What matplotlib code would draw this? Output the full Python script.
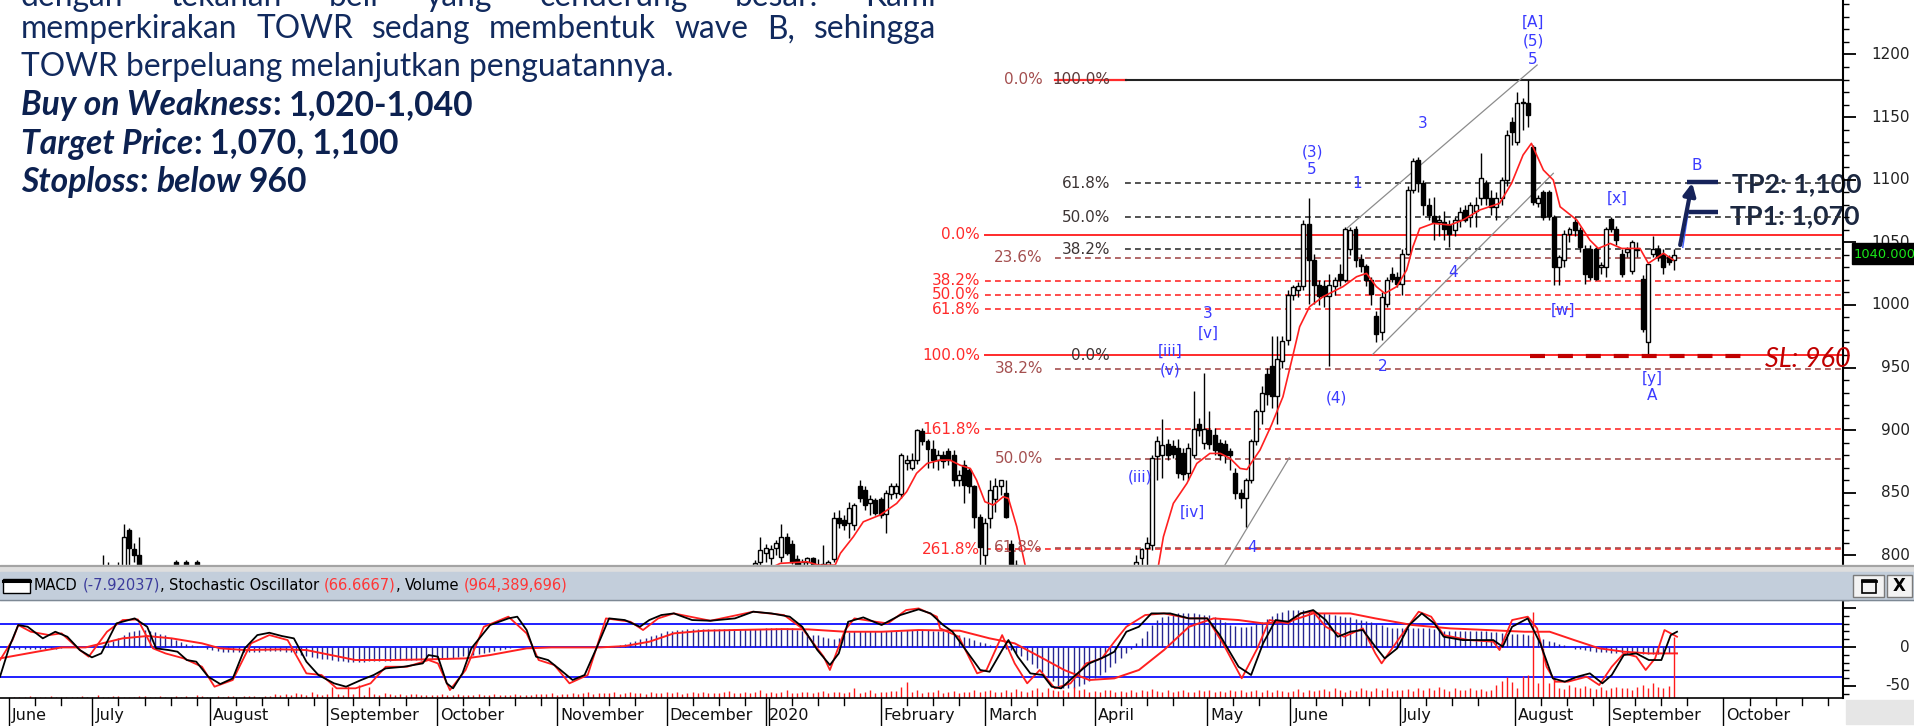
import numpy as np
import matplotlib
matplotlib.use("Agg")
import matplotlib.pyplot as plt
import matplotlib.transforms as mtransforms
from matplotlib.patches import Rectangle

W, H = 1915, 726

# visible ranges of the two panels
PRICE_LO, PRICE_HI = 792.3, 1243.5
IND_LO, IND_HI = -65.4, 60.3
X_LO, X_HI = -2.7, 350.4
VOL_PER_UNIT = 12.26	# million shares per indicator unit

# ---- July 2019 candles that just reach into view ----
early_idx = [17, 18, 20, 21, 22, 23, 24, 31, 33, 35]
early_open = [780, 780, 782, 785, 820, 805, 800, 795, 795, 795]
early_high = [800, 795, 795, 825, 822, 810, 815, 796, 796, 796]
early_low = [770, 770, 775, 780, 785, 795, 780, 780, 780, 780]
early_close = [785, 788, 790, 815, 806, 800, 790, 785, 785, 785]

# ---- daily candles, Jan 2020 - Sep 2020 (bar 142 onwards) ----
main_start = 142
c_open = [792, 795, 802, 798, 806, 799, 815, 809, 797, 792,
	795, 798, 790, 785, 790, 797, 830, 828, 826, 824,
	855, 852, 842, 844, 845, 833, 849, 850, 849, 874,
	870, 876, 899, 891, 885, 876, 880, 883, 880, 860,
	872, 868, 855, 831, 800, 830, 845, 855, 850, 809,
	792, 770, 745, 730, 700, 715, 690, 660, 680, 665,
	630, 650, 685, 690, 710, 700, 735, 750, 740, 760,
	770, 760, 785, 780, 798, 806, 808, 879, 880, 889,
	887, 886, 882, 866, 880, 905, 890, 900, 896, 890,
	889, 883, 866, 850, 846, 860, 891, 915, 945, 951,
	927, 955, 972, 1008, 1012, 1015, 1065, 1036, 1016, 1015,
	1007, 1015, 1025, 1020, 1045, 1061, 1037, 1031, 1020, 991,
	978, 1001, 1025, 1022, 1017, 1041, 1092, 1116, 1097, 1080,
	1071, 1066, 1066, 1064, 1060, 1068, 1076, 1070, 1075, 1085,
	1097, 1085, 1078, 1085, 1100, 1146, 1130, 1161, 1161, 1126,
	1081, 1090, 1090, 1070, 1030, 1036, 1057, 1066, 1060, 1045,
	1045, 1045, 1030, 1030, 1069, 1061, 1041, 1042, 1027, 1045,
	1021, 970, 1041, 1045, 1041, 1038, 1036]
c_high = [796, 815, 809, 808, 812, 825, 818, 812, 800, 797,
	799, 799, 797, 808, 796, 835, 836, 832, 843, 842,
	860, 855, 848, 846, 847, 852, 858, 858, 882, 880,
	882, 901, 902, 893, 892, 884, 883, 886, 884, 868,
	876, 870, 856, 833, 830, 860, 862, 860, 860, 812,
	796, 780, 760, 745, 720, 730, 700, 690, 700, 680,
	660, 690, 700, 720, 730, 740, 760, 770, 765, 780,
	785, 790, 790, 800, 806, 815, 880, 895, 909, 893,
	892, 893, 886, 890, 931, 910, 946, 915, 902, 893,
	892, 886, 870, 853, 862, 893, 917, 935, 950, 975,
	975, 975, 1012, 1016, 1018, 1068, 1085, 1041, 1020, 1020,
	1025, 1022, 1033, 1062, 1062, 1063, 1041, 1033, 1022, 995,
	1010, 1022, 1030, 1026, 1045, 1095, 1117, 1118, 1100, 1085,
	1086, 1072, 1075, 1068, 1070, 1078, 1080, 1082, 1086, 1121,
	1100, 1092, 1090, 1102, 1140, 1150, 1170, 1165, 1180, 1128,
	1088, 1092, 1092, 1072, 1040, 1060, 1062, 1070, 1062, 1048,
	1048, 1046, 1034, 1062, 1070, 1063, 1045, 1046, 1052, 1050,
	1024, 1033, 1055, 1048, 1045, 1040, 1045]
c_low = [785, 788, 795, 792, 800, 795, 800, 793, 788, 786,
	790, 788, 782, 780, 783, 795, 822, 820, 814, 820,
	843, 836, 832, 832, 830, 818, 845, 846, 846, 868,
	868, 873, 888, 870, 870, 868, 870, 872, 855, 855,
	842, 850, 822, 790, 780, 822, 835, 848, 830, 780,
	770, 740, 720, 700, 680, 690, 650, 640, 660, 620,
	610, 645, 670, 680, 690, 695, 720, 730, 735, 745,
	755, 755, 770, 775, 792, 792, 804, 860, 862, 876,
	878, 862, 860, 860, 878, 895, 885, 885, 880, 876,
	874, 868, 845, 838, 823, 858, 888, 905, 920, 918,
	905, 950, 968, 1004, 1006, 1012, 1001, 1001, 1000, 998,
	951, 1008, 1015, 1018, 1040, 1030, 1026, 1015, 1000, 970,
	972, 998, 1018, 1014, 1008, 1040, 1089, 1090, 1072, 1068,
	1052, 1055, 1052, 1046, 1055, 1062, 1066, 1062, 1062, 1080,
	1080, 1072, 1068, 1080, 1095, 1128, 1128, 1140, 1142, 1080,
	1078, 1068, 1068, 1016, 1016, 1030, 1050, 1055, 1042, 1017,
	1020, 1020, 1025, 1022, 1058, 1048, 1022, 1038, 1025, 1038,
	978, 960, 1038, 1035, 1025, 1032, 1028]
c_close = [794, 804, 806, 805, 810, 815, 802, 795, 790, 795,
	798, 793, 792, 793, 795, 830, 826, 824, 838, 840,
	846, 840, 845, 834, 832, 850, 855, 855, 880, 876,
	876, 900, 891, 885, 876, 880, 875, 876, 860, 864,
	856, 855, 831, 807, 826, 852, 855, 860, 831, 792,
	775, 745, 730, 705, 715, 695, 660, 680, 665, 630,
	650, 685, 690, 710, 700, 735, 750, 740, 760, 770,
	760, 785, 780, 795, 805, 810, 878, 891, 888, 880,
	881, 866, 865, 886, 901, 900, 901, 889, 884, 880,
	880, 880, 850, 846, 860, 891, 915, 930, 929, 927,
	957, 971, 1008, 1014, 1015, 1065, 1036, 1016, 1007, 1007,
	1016, 1020, 1020, 1061, 1060, 1036, 1031, 1020, 1009, 977,
	1006, 1020, 1021, 1017, 1041, 1092, 1115, 1097, 1080, 1072,
	1066, 1068, 1061, 1057, 1068, 1074, 1068, 1080, 1080, 1101,
	1085, 1078, 1085, 1100, 1136, 1138, 1161, 1162, 1152, 1082,
	1085, 1070, 1071, 1030, 1038, 1057, 1061, 1060, 1046, 1025,
	1022, 1021, 1032, 1061, 1061, 1052, 1025, 1045, 1050, 1044,
	981, 1033, 1045, 1038, 1030, 1034, 1040]

# moving average drawn over the candles (bar, price)
ma_x = [140, 144, 146.8, 151.9, 154.1, 157.3, 158.3, 160.8, 162.7, 165.9, 169.1, 171.0, 172.9,
	174.9, 177.4, 179.3, 181.2, 183.2, 184.4, 186.0, 187.6, 189.5, 190.5, 192.1, 193.7, 196,
	202, 210, 216, 219.2, 220.2, 222.1, 224.7, 226.6, 229.1, 231.1, 233.0, 234.9, 236.2, 237.4,
	238.7, 240.9, 243.1, 245.1, 246.3, 248.2, 250.8, 254.6, 257.2, 259.1, 261.0, 262.6, 264.9,
	266.8, 268.0, 269.3, 271.9, 275.1, 277.6, 280.8, 284.6, 286.9, 289.1, 290.7, 293.0, 294.9,
	296.2, 299.4, 301.9, 303.5, 305.8, 308.0, 311.5, 313.1, 316.0, 317.9]
ma_y = [785, 788, 793.6, 794.9, 792.2, 792.2, 801.6, 814.9, 826.8, 832.2, 841.5, 850.8, 865.5,
	873.4, 876.1, 876.1, 872.1, 869.4, 860.1, 842.8, 840.2, 846.8, 845.5, 822.9, 792.2, 770,
	700, 690, 740, 790.9, 814.9, 841.5, 857.5, 873.4, 881.4, 881.4, 877.4, 869.4, 868.6, 876.1,
	884.1, 904.1, 926.7, 961.3, 982.6, 998.6, 1006.6, 1014.6, 1022.5, 1025.2, 1014.6, 1009.2, 1014.6,
	1027.9, 1046.5, 1061.1, 1065.1, 1063.8, 1067.8, 1075.8, 1081.1, 1097.1, 1119.7, 1129.0, 1107.7, 1099.7,
	1078.4, 1067.8, 1051.8, 1045.1, 1049.1, 1045.1, 1045.1, 1033.2, 1041.2, 1035.9]

# fibonacci sets
fib_red_labels = ["0.0%", "38.2%", "50.0%", "61.8%", "100.0%", "161.8%", "261.8%"]
fib_red_levels = [1056, 1019.3, 1008, 996.7, 960, 900.7, 804.7]
fib_brown_labels = ["0.0%", "23.6%", "38.2%", "50.0%", "61.8%"]
fib_brown_levels = [1180, 1037.6, 949, 877, 806]
fib_black_labels = ["100.0%", "61.8%", "50.0%", "38.2%", "0.0%"]
fib_black_levels = [1180, 1097, 1070, 1044.6, 960]

# elliott wave labels
wave_text = ["[A]", "(5)", "5", "(3)", "5", "1", "3", "4", "2", "(4)", "3", "[v]", "[iii]", "(v)",
	"(iii)", "[iv]", "4", "[w]", "[x]", "[y]", "A", "B"]
wave_x = [291.0, 291.0, 291.0, 248.7, 248.7, 257.3, 269.9, 275.7, 262.3, 253.4, 228.7, 228.7, 221.5,
	221.5, 215.7, 225.7, 237.2, 296.7, 307.1, 313.8, 313.8, 322.4]
wave_y = [1226, 1211, 1196, 1122, 1108, 1097, 1144.5, 1025.5, 951, 925.5, 993.5, 977.5, 963, 948,
	862.5, 834.5, 806.5, 996, 1085.5, 941.5, 928, 1111]

chan_up_x, chan_up_y = [255.4, 291.8], [1061.4, 1191.6]
chan_lo_x, chan_lo_y = [260.3, 294.9], [960.5, 1105.1]
chan_4_x, chan_4_y = [231.4, 244.3], [788.3, 877.8]

stop_loss = 960
sl_x = [290.4, 331]
tp_levels = [1098, 1074]
tp_x = [320.5, 326.4]
arrow_from, arrow_to = (319.2, 1047.8), (321.5, 1097.4)

# ---- indicator panel ----
stk_x = [-2.7, -0.9, 0.8, 2.6, 5.5, 7.9, 10.2, 12.6, 14.9, 16.7, 19.6, 23.1, 25.5, 27.2, 29.6, 31.3,
	33.1, 34.9, 37.2, 39.5, 41.9, 44.2, 46.6, 48.9, 51.3, 53.6, 56, 58.3, 61.3, 63.6, 66.5, 68.9,
	71.2, 74.7, 78.3, 79.4, 81.2, 82.9, 84.1, 85.9, 87.6, 91.2, 94.7, 96.4, 98.2, 100, 102.3, 104.7,
	107, 109.3, 111.7, 114, 117, 119.9, 121.7, 124, 126.4, 129.9, 133.4, 138.1, 141.6, 145.1, 148.6,
	151, 153.9, 156.3, 158, 159.8, 162.7, 166.2, 169.8, 173.3, 175.6, 178, 179.8, 182.8, 185.1,
	186.9, 189.3, 190.5, 192.3, 194.7, 197.1, 198.8, 200.6, 203, 206, 209, 210.8, 213.1, 215.5,
	217.9, 221.5, 225.1, 228.6, 231, 234.6, 237, 239.3, 241.7, 244.1, 246.5, 248.9, 251.3, 253.6,
	256, 258.4, 260.8, 262.6, 265, 267.3, 269.7, 272.1, 273.9, 277.5, 281, 283.4, 285.2, 287, 290,
	292.4, 294.8, 297.1, 299.5, 301.9, 304.3, 306.1, 308.4, 310.8, 313.2, 315.6, 317.4, 318.6]
stk_y = [-38.1, 0.4, 28.2, 26, 11.1, 19.6, 13.2, -3.9, -13.3, -8.2, 30.3, 36.7, 26, -1.7, -3.9, -6,
	-16.7, -18.8, -38.1, -47.5, -40.2, -1.7, 15.3, 18.3, 14.1, 11.1, -18.8, -35.9, -46.6, -50.9, -42.3,
	-35.9, -27.4, -25.3, -21, -10.3, -12.4, -46.6, -53, -33.8, -1.7, 28.2, 36.7, 38.9, 21.8, -12.4,
	-16.7, -29.5, -42.3, -35.9, 0.4, 36.7, 34.6, 26, 34.6, 41, 43.1, 34.6, 33.7, 36.7, 45.3, 43.1,
	38.9, 26, -3.9, -23.1, -8.2, 32.4, 38, 28.2, 41, 48.3, 43.1, 28.2, 19.6, -8.2, -29.5, -31.7,
	-3.9, 8.9, -12.4, -33.8, -35.9, -50.9, -53, -38.1, -21, -12.4, -6, 19.6, 26, 43.1, 43.1, 36.7,
	36.7, 15.3, -25.3, -35.9, 4.7, 34.6, 32.4, 43.1, 47.4, 34.6, 13.2, 19.6, 21.8, 0.4, -14.6,
	-1.7, 28.2, 43.1, 30.3, 13.2, 8.9, 8.9, 8.9, 0.4, 26, 36.7, 4.7, -40.2, -44.5, -38.1, -33.8,
	-46.6, -35.9, -10.3, -8.2, -16.7, -16.7, 15.3, 19.6]
std_x = [-2.7, -0.3, 0.8, 3.2, 6.7, 9.1, 12.6, 14.3, 17.8, 20.8, 23.7, 26.6, 29, 32.5, 36, 38.4,
	41.9, 45.4, 48.9, 52.4, 56, 58.9, 61.8, 65.4, 68.3, 71.2, 75.3, 79.4, 81.2, 83.5, 86.5, 90,
	94.7, 98.2, 100.5, 103.5, 106.4, 109.9, 113.4, 118.1, 120.5, 123.4, 126.4, 133.4, 141.6, 147.5,
	151, 155.1, 156.3, 159.2, 161, 165.1, 167.4, 170.9, 173.3, 176.8, 177.4, 181, 184.5, 186.3,
	189.3, 191.7, 194.1, 196.5, 199.4, 202.4, 205.4, 208.4, 210.8, 213.1, 216.7, 220.3, 225.1,
	228.6, 231.6, 235.2, 238.2, 240.5, 244.1, 246.5, 248.9, 251.3, 254.8, 258.4, 260.8, 262, 265.6,
	269.1, 271.5, 273.9, 278.7, 283.4, 284.6, 287, 290, 291.8, 293.6, 295.3, 297.7, 301.3, 303.7,
	306.1, 308.4, 310.8, 312.6, 314.4, 316.2, 318.6]
std_y = [-16.7, 8.9, 28.2, 19.6, 15.3, 17.5, -3.9, -12.4, 19.6, 34.6, 35.4, -1.7, -8.2, -14.6,
	-25.3, -50.9, -42.3, 4.7, 15.3, 8.9, -33.8, -35.9, -53, -53, -46.6, -25.3, -25.3, -16.7, -21,
	-55.2, -29.5, 26, 38.9, 17.5, -16.7, -23.1, -46.6, -35.9, 36.7, 32.4, 21.8, 36.7, 43.1, 33.7,
	45.3, 41, 23.9, -12.4, -29.5, 21.8, 36.7, 32.4, 30.3, 47.4, 49.5, 38.9, 23.9, 13.2, -33.8,
	-29.5, 15.3, -21, -46.6, -29.5, -53, -46.6, -21, -14.6, 6.8, 26, 41, 43.1, 36.7, 36.7, 4.7,
	-40.2, -1.7, 34.6, 30.3, 43.1, 45.3, 26, 13.2, 23.9, -8.2, -21, 13.2, 45.3, 38.9, 15.3, 8.9,
	6.8, -3.9, 34.6, 38.9, 23.9, -25.3, -44.5, -44.5, -38.1, -48.8, -25.3, -8.2, -12.4, -29.5,
	-14.6, 21.8, 13.2]
sig_x = [-2.7, 4.4, 9.1, 13.7, 20.8, 25.5, 30.2, 36, 39.5, 44.2, 51.3, 56, 60.7, 65.4, 72.4, 79.4,
	86.5, 91.2, 98.2, 102.9, 112.3, 117, 121.7, 126.4, 132.2, 138.1, 147.5, 152.2, 159.2, 166.2,
	173.3, 181.2, 186.9, 191.7, 196.5, 201.2, 206, 210.8, 215.5, 220.3, 225.1, 229.8, 234.6, 239.3,
	244.1, 248.9, 256, 260.8, 267.9, 275.1, 282.2, 289.4, 294.2, 298.9, 303.7, 308.4, 313.2, 318.6]
sig_y = [-14.6, -6, -0.5, -0.5, 11.1, 14.1, 11.1, 4.7, -1.7, -3.9, -3, -3.9, -10.3, -16.7, -16.7,
	-15.8, -14.6, -10.3, -1.7, -0.5, -0.5, 1.2, 6.8, 17.5, 20.9, 21.8, 23, 22.6, 19.6, 19.6, 21.8,
	20.9, 11.1, 4.7, -12.4, -29.5, -42.3, -40.2, -29.5, -3.9, 26, 36.7, 34.6, 30.3, 32.4, 43.1,
	43.1, 36.7, 28.2, 23.9, 21.8, 19.6, 19.6, 8.9, -1.7, -6, -8.2, -8.2]
# one value per bar, bar 0 .. 318
macd_hist = [-3, -3, -3, -2, -3, -3, -2, -2, -2, -1,
	0, 0, 0, 0, 0, 0, 1, 3, 5, 8,
	12, 16, 19, 21, 22, 22, 21, 19, 17, 15,
	12, 9, 7, 4, 2, 1, 0, -2, -4, -5,
	-6, -6, -7, -7, -7, -6, -6, -6, -5, -5,
	-5, -5, -6, -7, -8, -10, -12, -13, -14, -15,
	-16, -17, -18, -18, -19, -19, -19, -19, -18, -18,
	-18, -18, -18, -17, -17, -17, -17, -17, -17, -17,
	-16, -16, -15, -15, -14, -13, -12, -11, -10, -9,
	-8, -6, -5, -4, -2, -1, 0, 0, 0, 0,
	0, 0, 0, 0, 0, 0, 0, 0, 0, 0,
	0, 0, 0, 0, 0, 1, 2, 4, 6, 8,
	10, 12, 14, 16, 18, 20, 21, 22, 22, 23,
	23, 23, 23, 23, 23, 23, 23, 23, 23, 23,
	23, 23, 23, 23, 24, 24, 24, 24, 24, 24,
	22, 20, 18, 16, 15, 13, 11, 10, 12, 16,
	19, 20, 21, 21, 21, 21, 21, 21, 21, 21,
	21, 22, 22, 22, 22, 22, 21, 21, 20, 19,
	17, 15, 13, 11, 9, 7, 5, 3, 1, 0,
	-2, -4, -8, -12, -17, -22, -27, -32, -38, -44,
	-50, -53, -53, -52, -50, -47, -44, -40, -36, -32,
	-26, -20, -14, -8, -2, 5, 12, 20, 28, 35,
	38, 40, 42, 43, 43, 43, 43, 42, 41, 41,
	39, 36, 32, 28, 27, 26, 26, 27, 29, 32,
	36, 40, 43, 45, 47, 48, 48, 48, 47, 45,
	44, 43, 42, 41, 40, 39, 38, 36, 35, 34,
	32, 30, 28, 26, 25, 24, 24, 24, 24, 24,
	24, 24, 23, 22, 21, 21, 20, 20, 20, 20,
	20, 20, 20, 19, 19, 18, 17, 17, 17, 17,
	16, 14, 12, 10, 8, 6, 4, 2, 0, -2,
	-3, -4, -5, -6, -7, -7, -8, -8, -8, -9,
	-9, -9, -9, -9, -9, -9, -8, -8, -8]
volume_m = [20, 10, 15, 30, 10, 20, 15, 25, 10, 20,
	15, 20, 10, 30, 20, 15, 40, 20, 15, 25,
	30, 20, 15, 20, 35, 25, 20, 15, 30, 20,
	20, 25, 15, 30, 20, 40, 25, 20, 15, 30,
	20, 30, 25, 20, 35, 25, 30, 20, 25, 30,
	60, 50, 70, 45, 80, 60, 55, 90, 60, 50,
	70, 180, 65, 55, 190, 60, 200, 50, 170, 60,
	55, 75, 60, 50, 65, 45, 60, 70, 55, 40,
	50, 45, 60, 55, 40, 65, 50, 45, 55, 60,
	45, 50, 60, 40, 55, 50, 60, 45, 50, 55,
	60, 70, 65, 80, 55, 70, 60, 75, 65, 80,
	90, 70, 85, 75, 80, 95, 70, 85, 90, 75,
	80, 70, 90, 85, 75, 100, 80, 95, 70, 85,
	90, 75, 100, 80, 85, 75, 90, 110, 80, 85,
	95, 80, 90, 120, 85, 100, 75, 90, 130, 80,
	85, 90, 100, 75, 95, 110, 85, 100, 90, 80,
	95, 150, 85, 90, 120, 80, 100, 95, 110, 110,
	180, 250, 100, 130, 85, 90, 100, 120, 80, 95,
	110, 85, 100, 90, 120, 95, 110, 130, 90, 100,
	120, 100, 140, 110, 95, 130, 150, 100, 160, 120,
	110, 130, 100, 170, 120, 140, 90, 110, 100, 130,
	120, 100, 110, 90, 130, 100, 120, 110, 140, 115,
	100, 120, 90, 110, 130, 100, 95, 120, 110, 130,
	100, 115, 90, 120, 105, 130, 100, 110, 120, 95,
	120, 100, 130, 115, 95, 110, 140, 100, 120, 110,
	130, 140, 110, 160, 120, 100, 130, 110, 150, 125,
	110, 150, 120, 160, 110, 130, 120, 140, 110, 160,
	130, 150, 120, 170, 140, 110, 160, 120, 130, 150,
	120, 140, 110, 130, 200, 260, 330, 250, 160, 340,
	360, 1360, 240, 790, 230, 280, 160, 140, 200, 170,
	150, 190, 160, 140, 170, 130, 150, 180, 160, 150,
	130, 170, 200, 150, 230, 180, 160, 190, 964]
ind_levels = [30, 0, -38]

# month ticks on the time axis (bar positions)
month_pos = [-1, 15, 37.5, 60, 81, 104, 125, 144, 166, 186, 207, 228.5, 244.5, 265.5, 287.5, 305.5, 327.5]
month_names = ["June", "July", "August", "September", "October", "November", "December", "2020",
	"February", "March", "April", "May", "June", "July", "August", "September", "October"]

# overlay text
para_l1 = "dengan tekanan beli yang cenderung besar. Kami"
para_l2 = "memperkirakan TOWR sedang membentuk wave B, sehingga"
para_l3 = "TOWR berpeluang melanjutkan penguatannya."
header_parts = [("MACD", "black", False), ("(-7.92037)", "#3b3b9c", True), (",", "black", False),
	("Stochastic Oscillator", "black", True), ("(66.6667)", "#ff3636", True), (",", "black", False),
	("Volume", "black", True), ("(964,389,696)", "#ff3636", True)]


def fx(x):
	return x / W


def fy(y):
	return 1 - y / H


fig = plt.figure(figsize=(W / 100, H / 100), dpi=100)
fig.patch.set_facecolor("white")
rend = fig.canvas.get_renderer()


def frect(x0, y0, x1, y1, **kw):
	fig.add_artist(Rectangle((fx(x0), fy(y1)), (x1 - x0) / W, (y1 - y0) / H, transform=fig.transFigure, **kw))


def text_w(t):
	return t.get_window_extent(renderer=rend).width


ax = fig.add_axes([0, fy(565), fx(1843), 565 / H])
ax2 = fig.add_axes([0, fy(698), fx(1843), 98 / H])
for a in (ax, ax2):
	a.set_xlim(X_LO, X_HI)
	a.set_xticks([])
	a.set_facecolor("white")
	for s in ("top", "left", "bottom"):
		a.spines[s].set_visible(False)
	a.spines["right"].set_linewidth(1.5)
	a.yaxis.tick_right()
ax.set_ylim(PRICE_LO, PRICE_HI)
ax2.set_ylim(IND_LO, IND_HI)
ax2.spines["bottom"].set_visible(True)
ax2.spines["bottom"].set_linewidth(1.2)

ax.set_yticks(np.arange(800, 1201, 50))
ax.set_yticks(np.arange(800, 1241, 10), minor=True)
ax2.set_yticks([-50, 0, 50])
ax2.set_yticks(np.arange(-60, 61, 10), minor=True)
for a in (ax, ax2):
	a.tick_params(axis="y", which="major", length=9.5, width=1.3, labelright=False, labelleft=False)
	a.tick_params(axis="y", which="minor", length=4.5, width=1.0)

# right-hand price labels
tr_price = mtransforms.blended_transform_factory(fig.transFigure, ax.transData)
for v in range(800, 1201, 50):
	fig.text(fx(1910), v, str(v), transform=tr_price, ha="right", va="center", fontsize=11, color="#222222")
tr_ind = mtransforms.blended_transform_factory(fig.transFigure, ax2.transData)
for v in (0, -50):
	fig.text(fx(1910), v, str(v), transform=tr_ind, ha="right", va="center", fontsize=11, color="#222222")

# ---- fibonacci lines ----
red, brown = "#ff2b2b", "#a44f4f"
dash = (0, (3.5, 2.5))
for lab, lev in zip(fib_red_labels, fib_red_levels):
	solid = lab in ("0.0%", "100.0%")
	ax.plot([186, X_HI], [lev, lev], color=red, lw=1.4 if solid else 1.2, ls="-" if solid else dash, zorder=1)
	ax.text(185.1, lev, lab, ha="right", va="center", color=red, fontsize=11, zorder=6)
for lab, lev in zip(fib_brown_labels, fib_brown_levels):
	if lab == "0.0%":
		ax.plot([199.4, 213], [lev, lev], color=red, lw=1.6, zorder=1)
	else:
		ax.plot([199.4, X_HI], [lev, lev], color=brown, lw=1.2, ls=dash, zorder=1)
	ax.text(197.1, lev, lab, ha="right", va="center", color=brown, fontsize=11, zorder=6)
for lab, lev in zip(fib_black_labels, fib_black_levels):
	if lab == "100.0%":
		ax.plot([213, X_HI], [lev, lev], color="#222222", lw=1.5, zorder=1)
	elif lab != "0.0%":
		ax.plot([212.8, X_HI], [lev, lev], color="#333333", lw=1.2, ls=dash, zorder=2)
	col = "#5a3a3a" if lab == "100.0%" else "#3c3434"
	ax.text(210, lev, lab, ha="right", va="center", color=col, fontsize=11, zorder=6)

# channel lines
for xs, ys in ((chan_up_x, chan_up_y), (chan_lo_x, chan_lo_y), (chan_4_x, chan_4_y)):
	ax.plot(xs, ys, color="#8c8c8c", lw=0.9, zorder=2)


# ---- candles ----
def draw_candles(idx, o, h, l, c):
	idx = np.asarray(idx, float)
	o, h, l, c = (np.asarray(v, float) for v in (o, h, l, c))
	ax.vlines(idx, l, h, color="black", lw=1, zorder=3)
	up = c >= o
	lo = np.minimum(o, c)
	ht = np.maximum(np.abs(c - o), 0.9)
	ax.bar(idx[up], ht[up], bottom=lo[up], width=0.76, color="white", edgecolor="black", linewidth=1, zorder=4)
	ax.bar(idx[~up], ht[~up], bottom=lo[~up], width=0.76, color="black", edgecolor="black", linewidth=1, zorder=4)


draw_candles(early_idx, early_open, early_high, early_low, early_close)
draw_candles(np.arange(main_start, main_start + len(c_open)), c_open, c_high, c_low, c_close)
ax.plot(ma_x, ma_y, color="#ff2020", lw=1.2, zorder=5)

# wave labels
for s, x, y in zip(wave_text, wave_x, wave_y):
	ax.text(x, y, s, ha="center", va="center", color="#3a3aff", fontsize=11, zorder=7)

# stop loss and targets
ax.plot(sl_x, [stop_loss - 1, stop_loss - 1], color="#c00000", lw=3, dashes=(3.6, 3.1), zorder=6)
ax.text(335.4, 950.4, "SL: 960", family="Lato", style="italic", fontsize=19.5, color="#c00000",
	ha="left", va="baseline", zorder=6)
ax.text(329.1, 1090.4, "TP2: 1,100", family="Lato", fontweight="bold", fontsize=19.3, color="#1c2841",
	ha="left", va="baseline", zorder=1.5)
ax.text(328.7, 1064.6, "TP1: 1,070", family="Lato", fontweight="bold", fontsize=19.3, color="#1c2841",
	ha="left", va="baseline", zorder=1.5)
for lev in tp_levels:
	ax.plot(tp_x, [lev, lev], color="#16235a", lw=3.2, solid_capstyle="butt", zorder=6)
ax.plot([319.7, 320.7], [1046, 1073], color="#4060ff", lw=1, zorder=6)
ax.annotate("", xy=arrow_to, xytext=arrow_from,
	arrowprops=dict(arrowstyle="-|>", color="#16235a", lw=3, mutation_scale=18, shrinkA=0, shrinkB=0), zorder=7)

# last price tag
frect(1852, 243, 1915, 264, color="black", zorder=10)
fig.text(fx(1854), c_close[-1], f"{c_close[-1]:.3f}", transform=tr_price, ha="left", va="center",
	fontsize=9.4, color="#19e619", zorder=11)

# ---- indicator panel ----
for v in ind_levels:
	ax2.axhline(v, color="#1f1fff", lw=1.4, zorder=1)
bars = np.arange(len(macd_hist))
ax2.vlines(bars, 0, macd_hist, color="#26268f", lw=1, zorder=2)
ax2.vlines(bars, IND_LO, IND_LO + np.array(volume_m) / VOL_PER_UNIT, color="#ff1a1a", lw=1, zorder=2)
ax2.plot(sig_x, sig_y, color="#ff2020", lw=1.4, zorder=3)
ax2.plot(std_x, std_y, color="#ff2020", lw=1.3, zorder=4)
ax2.plot(stk_x, stk_y, color="black", lw=1.3, zorder=5)

# time axis strip
tr_x = mtransforms.blended_transform_factory(ax2.transData, fig.transFigure)
for k, (p, name) in enumerate(zip(month_pos, month_names)):
	ax2.plot([p, p], [fy(698), fy(726)], transform=tr_x, color="black", lw=1, clip_on=False)
	if name == "2020":
		ax2.plot([p + 0.6, p + 0.6], [fy(698), fy(726)], transform=tr_x, color="black", lw=1, clip_on=False)
	nxt = month_pos[k + 1] if k + 1 < len(month_pos) else X_HI
	m = p + 5
	while m < nxt - 2:
		ax2.plot([m, m], [fy(698), fy(705)], transform=tr_x, color="black", lw=1, clip_on=False)
		m += 5
	ax2.text(p + 0.6, fy(720), name, transform=tr_x, ha="left", va="baseline", fontsize=11.5, color="#111111")
frect(1846, 700, 1915, 724, color="#e6e6e6", zorder=1)

# window chrome between the panels
frect(0, 565, W, 572, color="#dedede", zorder=1)
fig.add_artist(plt.Line2D([0, 1], [fy(566), fy(566)], transform=fig.transFigure, color="#a4a4a4", lw=1.5))
frect(0, 572, W, 600, color="#c3cedb", zorder=1)
fig.add_artist(plt.Line2D([0, 1], [fy(600), fy(600)], transform=fig.transFigure, color="#7d8894", lw=1))
frect(3, 579, 30, 593, facecolor="white", edgecolor="black", lw=1, zorder=2)
fig.add_artist(plt.Line2D([fx(3), fx(30)], [fy(580.5), fy(580.5)], transform=fig.transFigure, color="black", lw=2.2, zorder=3))
frect(1853, 575, 1884, 597, facecolor="#f3f3f3", edgecolor="#7a7a7a", lw=1, zorder=2)
frect(1862, 580, 1876, 593, facecolor="none", edgecolor="black", lw=1.2, zorder=3)
fig.add_artist(plt.Line2D([fx(1862), fx(1876)], [fy(581), fy(581)], transform=fig.transFigure, color="black", lw=2, zorder=3))
frect(1887, 575, 1912, 597, facecolor="#f3f3f3", edgecolor="#7a7a7a", lw=1, zorder=2)
fig.text(fx(1899.5), fy(586), "X", ha="center", va="center", fontsize=12, fontweight="bold", zorder=3)

HFS = 10.5
hx = 34
sp = text_w(fig.text(0, 0, "n n", fontsize=HFS)) - text_w(fig.text(0, 0, "nn", fontsize=HFS))
for t in fig.texts[-2:]:
	t.set_visible(False)
for s, col, pre in header_parts:
	if pre:
		hx += sp
	t = fig.text(fx(hx), fy(590), s, fontsize=HFS, color=col, ha="left", va="baseline", zorder=3)
	hx += text_w(t)

# ---- paragraph overlay ----
navy = "#112a5e"
FS = 22.9
FS_B = 24.2


def justify(line, y, x0, x1):
	ts = [fig.text(fx(x0), fy(y), w, family="Lato", fontsize=FS, color=navy, va="baseline") for w in line.split()]
	ws = [text_w(t) for t in ts]
	gap = (x1 - x0 - sum(ws)) / (len(ws) - 1)
	x = x0
	for t, w in zip(ts, ws):
		t.set_x(fx(x))
		x += w + gap


justify(para_l1, 6, 21, 936)
justify(para_l2, 38.5, 21, 936)
fig.text(fx(21), fy(76), para_l3, family="Lato", fontsize=FS, color=navy, va="baseline")

sp_b = text_w(fig.text(0, 0, "n n", family="Lato", fontsize=FS_B, fontweight="bold")) - \
	text_w(fig.text(0, 0, "nn", family="Lato", fontsize=FS_B, fontweight="bold"))
for t in fig.texts[-2:]:
	t.set_visible(False)
bold_lines = [
	(115, [("Buy on Weakness", "italic", False), (":", "normal", False), ("1,020-1,040", "normal", True)]),
	(153.5, [("Target Price", "italic", False), (":", "normal", False), ("1,070, 1,100", "normal", True)]),
	(192.5, [("Stoploss", "italic", False), (":", "normal", False), ("below", "italic", True), ("960", "normal", True)]),
]
for y, parts in bold_lines:
	x = 21
	for s, st, pre in parts:
		if pre:
			x += sp_b
		t = fig.text(fx(x), fy(y), s, family="Lato", fontsize=FS_B, fontweight="bold", style=st,
			color="#0c2150", va="baseline")
		x += text_w(t)

fig.savefig("out.png", dpi=100)
